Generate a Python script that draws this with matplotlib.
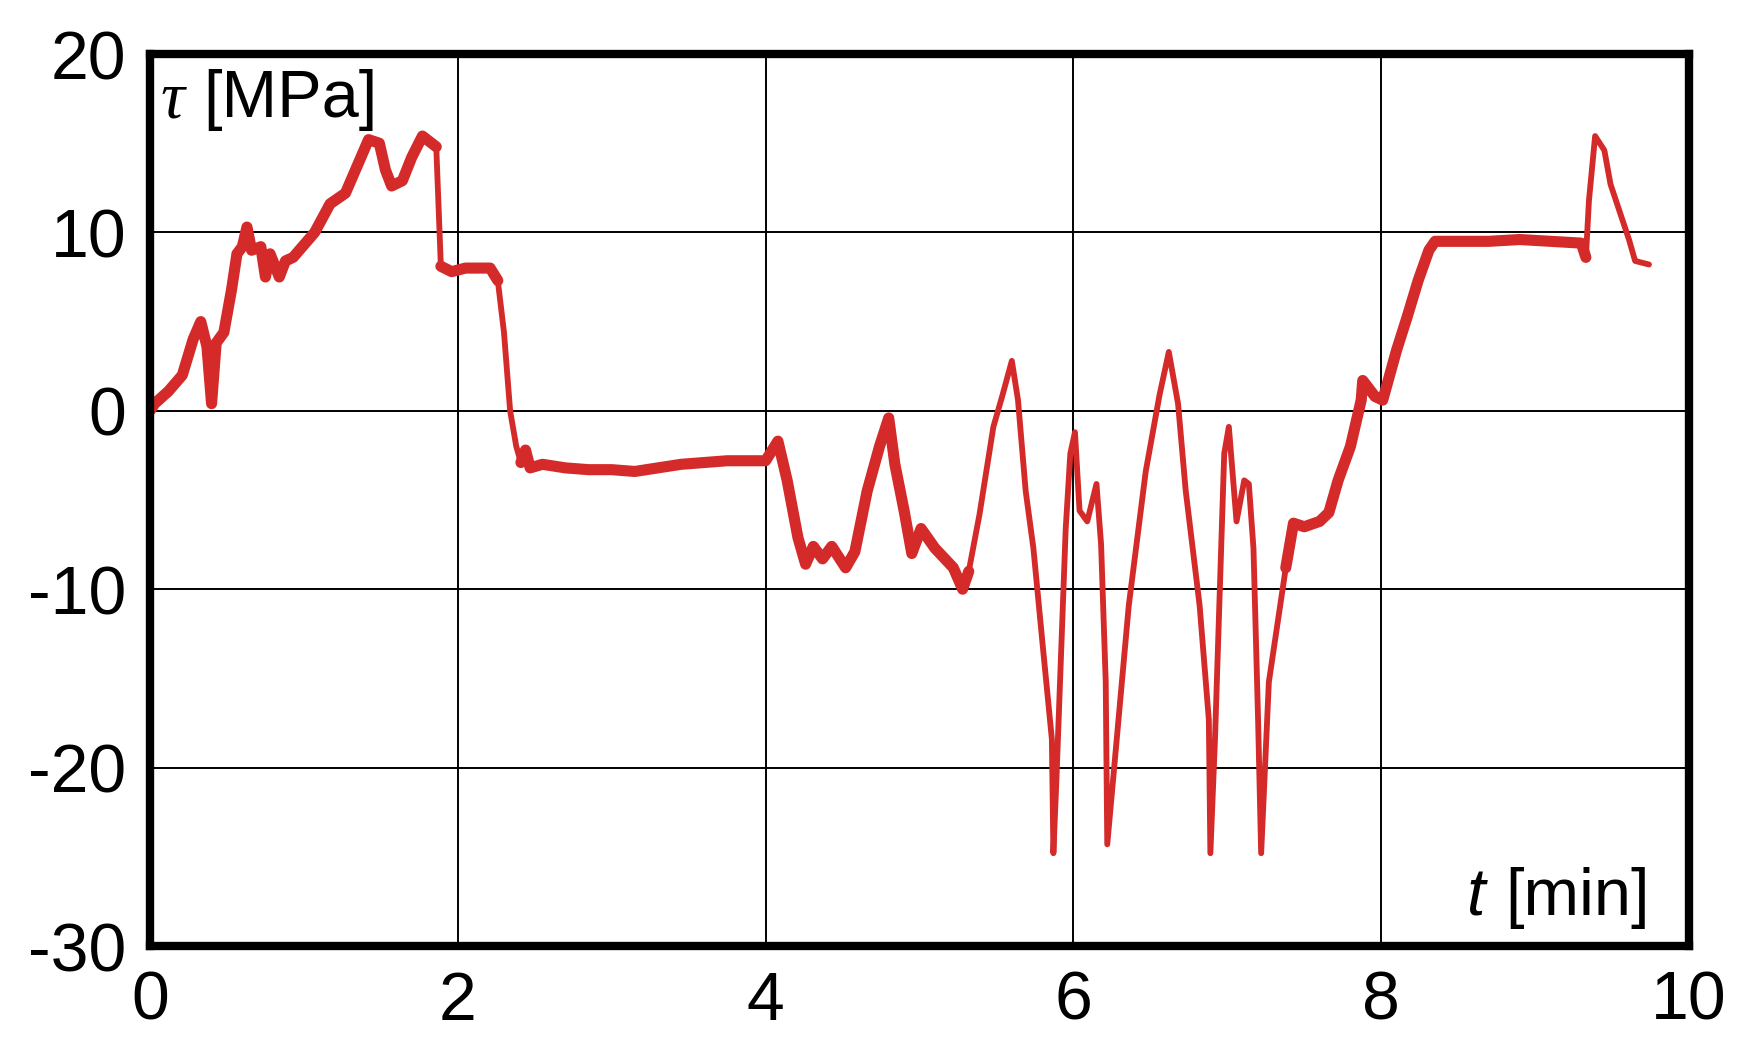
import matplotlib
matplotlib.use("Agg")
import matplotlib.pyplot as plt
import numpy as np

# ---- data ----
t_min = [0.00, 0.03, 0.12, 0.21, 0.28, 0.33, 0.37, 0.40, 0.43, 0.48,
         0.53, 0.565, 0.60, 0.63, 0.66, 0.72, 0.75, 0.78, 0.84, 0.88,
         0.93, 1.00, 1.07, 1.12, 1.17, 1.27, 1.35, 1.42, 1.49, 1.53,
         1.57, 1.64, 1.70, 1.77, 1.83, 1.86, 1.89, 1.96, 2.05, 2.15,
         2.21, 2.26, 2.30, 2.34, 2.38, 2.41, 2.44, 2.47, 2.55, 2.70,
         2.85, 3.00, 3.15, 3.30, 3.45, 3.60, 3.75, 3.90, 4.00, 4.08,
         4.14, 4.21, 4.26, 4.31, 4.37, 4.43, 4.52, 4.58, 4.66, 4.74,
         4.80, 4.84, 4.90, 4.95, 5.01, 5.10, 5.22, 5.28, 5.32, 5.39,
         5.48, 5.54, 5.60, 5.64, 5.69, 5.74, 5.80, 5.86, 5.87, 5.89,
         5.95, 5.98, 6.01, 6.04, 6.09, 6.15, 6.18, 6.21, 6.22, 6.27,
         6.36, 6.47, 6.56, 6.62, 6.68, 6.73, 6.82, 6.88, 6.89, 6.92,
         6.98, 7.01, 7.06, 7.11, 7.14, 7.17, 7.20, 7.22, 7.27, 7.38,
         7.43, 7.50, 7.60, 7.66, 7.72, 7.80, 7.87, 7.88, 7.96, 8.01,
         8.10, 8.17, 8.24, 8.31, 8.35, 8.50, 8.70, 8.90, 9.10, 9.30,
         9.33, 9.35, 9.39, 9.45, 9.49, 9.56, 9.61, 9.65, 9.74]

tau_mpa = [0.0, 0.4, 1.1, 2.0, 4.0, 5.0, 3.6, 0.4, 3.8, 4.4,
           6.8, 8.8, 9.2, 10.3, 9.0, 9.2, 7.5, 8.8, 7.5, 8.4,
           8.6, 9.3, 10.0, 10.8, 11.6, 12.2, 13.8, 15.2, 15.0, 13.5,
           12.6, 12.9, 14.2, 15.4, 15.0, 14.8, 8.1, 7.8, 8.0, 8.0,
           8.0, 7.3, 4.4, 0.0, -2.0, -2.9, -2.2, -3.2, -3.0, -3.2,
           -3.3, -3.3, -3.4, -3.2, -3.0, -2.9, -2.8, -2.8, -2.8, -1.7,
           -3.9, -7.1, -8.6, -7.6, -8.3, -7.6, -8.8, -7.9, -4.5, -2.0,
           -0.4, -3.0, -5.6, -8.0, -6.6, -7.7, -8.8, -10.0, -9.0, -5.8,
           -0.9, 0.9, 2.8, 0.6, -4.5, -7.7, -13.1, -18.4, -24.8, -20.6,
           -6.6, -2.4, -1.2, -5.6, -6.2, -4.1, -7.5, -15.2, -24.3, -19.5,
           -10.9, -3.4, 0.9, 3.3, 0.4, -4.5, -10.9, -17.3, -24.8, -18.4,
           -2.4, -0.9, -6.2, -3.9, -4.1, -7.7, -17.3, -24.8, -15.2, -8.8,
           -6.3, -6.5, -6.2, -5.7, -3.9, -2.0, 0.6, 1.7, 0.8, 0.6,
           3.4, 5.3, 7.3, 9.0, 9.5, 9.5, 9.5, 9.6, 9.5, 9.4,
           8.6, 11.8, 15.4, 14.6, 12.7, 10.9, 9.6, 8.4, 8.2]

x_ticks = [0, 2, 4, 6, 8, 10]
x_tick_labels = ["0", "2", "4", "6", "8", "10"]
y_ticks = [-30, -20, -10, 0, 10, 20]
y_tick_labels = ["-30", "-20", "-10", "0", "10", "20"]

assert len(t_min) == len(tau_mpa)

W, H = 1750, 1061
fig = plt.figure(figsize=(W / 100, H / 100), dpi=100)
ax = fig.add_axes([150 / W, 1 - 946 / H, (1689 - 150) / W, (946 - 54) / H])

red = "#d42a2a"
t = np.array(t_min)
tau = np.array(tau_mpa)

# base trace everywhere
ax.plot(t, tau, color=red, lw=4.2, solid_joinstyle="round",
        solid_capstyle="round", zorder=3)
# thicker (noisy) stretches
noisy = [(0.0, 1.87), (1.89, 2.27), (2.40, 5.35), (7.36, 9.34)]
for a, b in noisy:
    m = (t >= a) & (t <= b)
    ax.plot(t[m], tau[m], color=red, lw=8, solid_joinstyle="round",
            solid_capstyle="round", zorder=3)

ax.set_xlim(0, 10)
ax.set_ylim(-30, 20)
ax.set_xticks(x_ticks)
ax.set_xticklabels(x_tick_labels)
ax.set_yticks(y_ticks)
ax.set_yticklabels(y_tick_labels)
ax.grid(True, color="black", lw=1.4, zorder=1)
ax.set_axisbelow(True)
for s in ax.spines.values():
    s.set_linewidth(6)
    s.set_color("black")
    s.set_zorder(5)

ax.tick_params(axis="both", length=0)
ax.tick_params(axis="x", pad=17)
ax.tick_params(axis="y", pad=17)
for lab in ax.get_xticklabels() + ax.get_yticklabels():
    lab.set_fontfamily("Liberation Sans")
    lab.set_fontsize(49)

# axis labels inside the plot
fig.text(161 / W, 1 - 117 / H, "τ", family="Liberation Serif", style="italic",
         size=48, ha="left", va="baseline")
fig.text(203 / W, 1 - 117 / H, "[MPa]", family="Liberation Sans",
         size=48, ha="left", va="baseline")
fig.text(1467 / W, 1 - 915 / H, "t", family="Liberation Sans", style="italic",
         size=48, ha="left", va="baseline")
fig.text(1650 / W, 1 - 915 / H, "[min]", family="Liberation Sans",
         size=48, ha="right", va="baseline")

fig.savefig("out.png", dpi=100, facecolor="white")
